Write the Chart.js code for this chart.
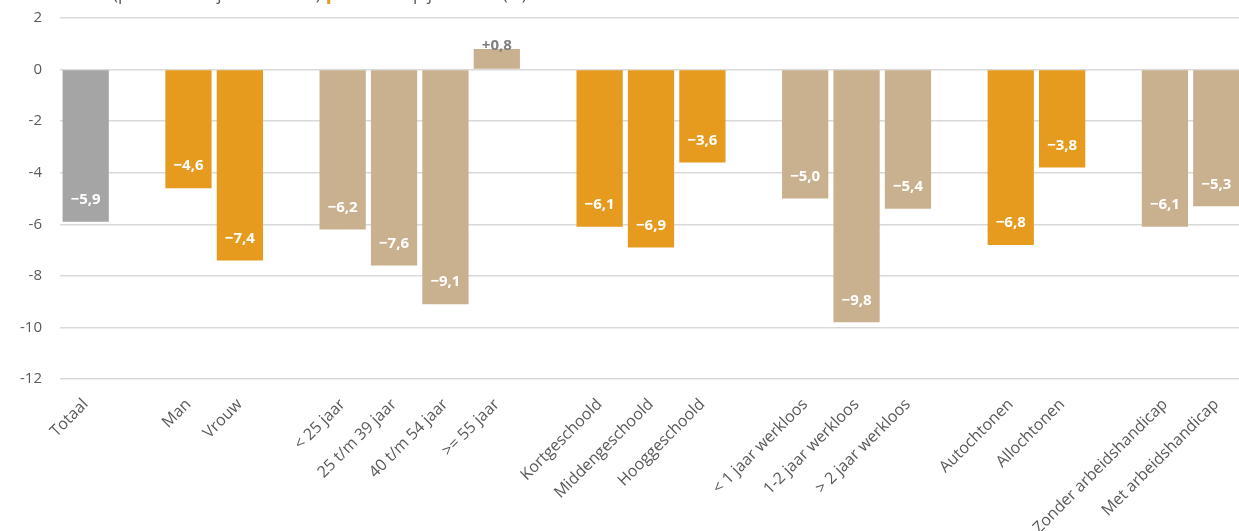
<!DOCTYPE html>
<html>
<head>
<meta charset="utf-8">
<script src="https://cdn.jsdelivr.net/npm/chart.js@4/dist/chart.umd.min.js"></script>
<style>
  html, body { margin: 0; padding: 0; background: #fff; overflow: hidden; }
  #wrap { position: relative; width: 1242px; height: 531px; }
</style>
</head>
<body>
<div id="wrap"><canvas id="chart"></canvas></div>
<script>
// Categories ('' = empty slot between groups)
const labels = [
  'Totaal', '',
  'Man', 'Vrouw', '',
  '< 25 jaar', '25 t/m 39 jaar', '40 t/m 54 jaar', '>= 55 jaar', '',
  'Kortgeschoold', 'Middengeschoold', 'Hooggeschoold', '',
  '< 1 jaar werkloos', '1-2 jaar werkloos', '> 2 jaar werkloos', '',
  'Autochtonen', 'Allochtonen', '',
  'Zonder arbeidshandicap', 'Met arbeidshandicap'
];
const values = [
  -5.9, null,
  -4.6, -7.4, null,
  -6.2, -7.6, -9.1, 0.8, null,
  -6.1, -6.9, -3.6, null,
  -5.0, -9.8, -5.4, null,
  -6.8, -3.8, null,
  -6.1, -5.3
];
// colour group per bar: g = grey, o = orange, t = tan
const groups = [
  'g', '',
  'o', 'o', '',
  't', 't', 't', 't', '',
  'o', 'o', 'o', '',
  't', 't', 't', '',
  'o', 'o', '',
  't', 't'
];
const yTicks = [2, 0, -2, -4, -6, -8, -10, -12];
const titleLeft = 'Werkloosheid (peildatum 1 januari 2017)';
const titleRight = 'Mutatie op jaarbasis (%)';

const colors = { g: '#A5A5A5', o: '#E69B1F', t: '#C9B18F' };

function fmt(v) {
  const s = Math.abs(v).toFixed(1).replace('.', ',');
  return (v < 0 ? '\u2212' : '+') + s;
}

// value labels drawn inside the bar end
const valueLabels = {
  id: 'valueLabels',
  afterDatasetsDraw(chart) {
    const ctx = chart.ctx;
    const meta = chart.getDatasetMeta(0);
    ctx.save();
    ctx.font = 'bold 15px "Open Sans", sans-serif';
    ctx.textAlign = 'center';
    ctx.textBaseline = 'middle';
    meta.data.forEach((bar, i) => {
      const v = values[i];
      if (v === null) return;
      if (v < 0) {
        ctx.fillStyle = '#FFFFFF';
        ctx.fillText(fmt(v), bar.x, bar.y - 22);
      } else {
        ctx.fillStyle = '#7F7F7F';
        ctx.fillText(fmt(v), bar.x, bar.y - 3);
      }
    });
    ctx.restore();
  }
};

// title line, mostly cut off above the picture
const clippedTitle = {
  id: 'clippedTitle',
  afterDraw(chart) {
    const ctx = chart.ctx;
    ctx.save();
    ctx.font = '17px "Open Sans", sans-serif';
    ctx.textBaseline = 'alphabetic';
    ctx.textAlign = 'left';
    ctx.fillStyle = '#595959';
    ctx.fillText(titleLeft, 0, 0);
    let x = ctx.measureText(titleLeft + ' ').width;
    ctx.fillStyle = '#E69B1F';
    ctx.fillRect(x + 2, -10, 3, 14);
    x += 12;
    ctx.fillStyle = '#595959';
    ctx.fillText(titleRight, x, 0);
    ctx.restore();
  }
};

new Chart(document.getElementById('chart'), {
  type: 'bar',
  data: {
    labels: labels,
    datasets: [{
      data: values,
      backgroundColor: groups.map(g => colors[g] || 'transparent'),
      barPercentage: 0.9,
      categoryPercentage: 1.0
    }]
  },
  options: {
    responsive: true,
    maintainAspectRatio: false,
    animation: false,
    layout: { padding: { top: 18, right: 0, left: 0, bottom: 0 } },
    plugins: { legend: { display: false }, tooltip: { enabled: false } },
    scales: {
      x: {
        grid: { display: false, drawTicks: false },
        border: { display: false },
        ticks: {
          autoSkip: false,
          maxRotation: 45,
          minRotation: 45,
          padding: 16,
          color: '#595959',
          font: { family: '"Open Sans", sans-serif', size: 16 }
        },
        afterFit(scale) { scale.height = 152; scale.paddingLeft = 0; scale.paddingRight = 0; }
      },
      y: {
        min: -12,
        max: 2,
        afterBuildTicks(scale) { scale.ticks = yTicks.map(v => ({ value: v })); },
        grid: { color: '#D9D9D9', lineWidth: 1.5, drawTicks: false },
        border: { display: false },
        ticks: {
          padding: 18,
          color: '#595959',
          font: { family: '"Open Sans", sans-serif', size: 15 }
        },
        afterFit(scale) { scale.width = 60; scale.paddingTop = 0; scale.paddingBottom = 0; }
      }
    }
  },
  plugins: [valueLabels, clippedTitle]
});
</script>
</body>
</html>
